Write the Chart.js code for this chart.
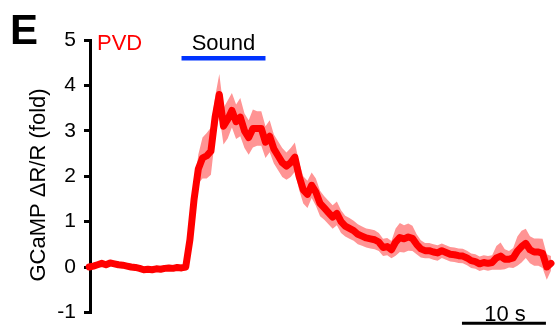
<!DOCTYPE html>
<html>
<head>
<meta charset="utf-8">
<script src="https://cdn.jsdelivr.net/npm/chart.js@4"></script>
<style>
  html, body { margin: 0; padding: 0; background: #ffffff; }
  #wrap { width: 556px; height: 333px; position: relative; }
</style>
</head>
<body>
<div id="wrap"><canvas id="chart" width="556" height="333"></canvas></div>
<script>
// サンプリング間隔（秒）
const SAMPLE_STEP = 0.5;

// PVD GCaMP 平均値 (fold)、0 s から 0.5 s ごと
const meanTrace = [
    0.00, 0.02, 0.05, 0.08, 0.05, 0.09, 0.07, 0.05, 0.04, 0.02,
    0.00, -0.01, -0.03, -0.06, -0.05, -0.06, -0.04, -0.05, -0.03, -0.02,
    -0.03, -0.01, -0.02, 0.00, 0.60, 1.50, 2.16, 2.40, 2.45, 2.55,
    3.30, 3.80, 3.10, 3.25, 3.45, 3.20, 3.30, 3.00, 2.85, 3.05,
    3.05, 3.05, 2.75, 2.88, 2.60, 2.45, 2.30, 2.22, 2.30, 2.42,
    2.00, 1.70, 1.60, 1.80, 1.65, 1.40, 1.30, 1.20, 1.10, 1.18,
    1.00, 0.90, 0.85, 0.80, 0.72, 0.68, 0.64, 0.62, 0.60, 0.55,
    0.43, 0.45, 0.38, 0.55, 0.65, 0.62, 0.66, 0.63, 0.50, 0.40,
    0.36, 0.36, 0.33, 0.31, 0.36, 0.32, 0.28, 0.27, 0.25, 0.24,
    0.20, 0.14, 0.12, 0.07, 0.10, 0.08, 0.10, 0.20, 0.24, 0.17,
    0.17, 0.20, 0.35, 0.45, 0.52, 0.38, 0.33, 0.33, 0.30, 0.00,
    0.08
];

// SEM（帯の半幅）
const semTrace = [
    0.03, 0.03, 0.03, 0.03, 0.03, 0.03, 0.03, 0.03, 0.03, 0.03,
    0.03, 0.03, 0.03, 0.03, 0.03, 0.03, 0.03, 0.03, 0.03, 0.03,
    0.03, 0.03, 0.03, 0.03, 0.15, 0.22, 0.32, 0.45, 0.50, 0.52,
    0.45, 0.45, 0.40, 0.42, 0.38, 0.38, 0.42, 0.38, 0.38, 0.42,
    0.38, 0.38, 0.35, 0.35, 0.32, 0.32, 0.32, 0.30, 0.32, 0.32,
    0.30, 0.30, 0.30, 0.28, 0.30, 0.28, 0.26, 0.26, 0.26, 0.26,
    0.25, 0.23, 0.23, 0.22, 0.22, 0.21, 0.21, 0.21, 0.21, 0.20,
    0.19, 0.19, 0.19, 0.30, 0.32, 0.30, 0.30, 0.28, 0.22, 0.19,
    0.17, 0.17, 0.17, 0.17, 0.16, 0.16, 0.16, 0.16, 0.16, 0.16,
    0.16, 0.16, 0.16, 0.16, 0.16, 0.16, 0.16, 0.26, 0.30, 0.22,
    0.18, 0.22, 0.32, 0.35, 0.32, 0.30, 0.30, 0.30, 0.32, 0.28,
    0.16
];

const yTicks = [-1, 0, 1, 2, 3, 4, 5];
const soundWindow = [11, 21];        // 音刺激 (s)
const scaleBarWindow = [44.4, 54.4]; // 10 s スケールバー
const soundBarLevel = 4.6;
const scaleBarLevel = -1.24;

const FONT = '"Liberation Sans", Arial, Helvetica, sans-serif';

const toPoints = (arr) => arr.map((v, i) => ({ x: i * SAMPLE_STEP, y: v }));
const upper = meanTrace.map((v, i) => v + semTrace[i]);
const lower = meanTrace.map((v, i) => v - semTrace[i]);

// 注釈（タイトル、Sound バー、スケールバー）
const annotations = {
    id: 'annotations',
    afterDatasetsDraw(chart) {
        const ctx = chart.ctx;
        const xs = chart.scales.x;
        const ys = chart.scales.y;
        ctx.save();

        // パネル記号
        ctx.fillStyle = '#000';
        ctx.font = 'bold 42px ' + FONT;
        ctx.textAlign = 'left';
        ctx.textBaseline = 'alphabetic';
        ctx.fillText('E', 10, 44);

        // PVD
        ctx.fillStyle = '#ff0000';
        ctx.font = '22px ' + FONT;
        ctx.fillText('PVD', 97, 50);

        // Sound バー
        const sx0 = xs.getPixelForValue(soundWindow[0]);
        const sx1 = xs.getPixelForValue(soundWindow[1]);
        const sy = ys.getPixelForValue(soundBarLevel);
        ctx.strokeStyle = '#0033ff';
        ctx.lineWidth = 4.5;
        ctx.beginPath();
        ctx.moveTo(sx0, sy);
        ctx.lineTo(sx1, sy);
        ctx.stroke();
        ctx.fillStyle = '#000';
        ctx.textAlign = 'center';
        ctx.fillText('Sound', (sx0 + sx1) / 2, 50);

        // スケールバー
        const bx0 = xs.getPixelForValue(scaleBarWindow[0]);
        const bx1 = xs.getPixelForValue(scaleBarWindow[1]);
        const by = ys.getPixelForValue(scaleBarLevel);
        ctx.strokeStyle = '#000';
        ctx.lineWidth = 3;
        ctx.beginPath();
        ctx.moveTo(bx0, by);
        ctx.lineTo(bx1, by);
        ctx.stroke();
        ctx.fillText('10 s', (bx0 + bx1) / 2 + 1, 321);

        // Y 軸タイトル
        ctx.translate(45, 185);
        ctx.rotate(-Math.PI / 2);
        ctx.textAlign = 'center';
        ctx.fillText('GCaMP \u0394R/R (fold)', 0, 0);
        ctx.restore();
    }
};

new Chart(document.getElementById('chart').getContext('2d'), {
    type: 'line',
    data: {
        datasets: [
            {
                data: toPoints(upper),
                borderWidth: 0,
                pointRadius: 0,
                fill: '+1',
                backgroundColor: '#ff9494',
                order: 3
            },
            {
                data: toPoints(lower),
                borderWidth: 0,
                pointRadius: 0,
                fill: false,
                order: 2
            },
            {
                data: toPoints(meanTrace),
                borderColor: '#ff0000',
                borderWidth: 7,
                pointRadius: 0,
                fill: false,
                tension: 0,
                borderCapStyle: 'round',
                borderJoinStyle: 'round',
                order: 1
            }
        ]
    },
    options: {
        responsive: false,
        animation: false,
        layout: { padding: { top: 40, bottom: 18, right: 0, left: 0 } },
        plugins: {
            legend: { display: false },
            tooltip: { enabled: false }
        },
        scales: {
            x: {
                type: 'linear',
                display: false,
                min: 0.1,
                max: 55.6
            },
            y: {
                min: -1,
                max: 5,
                afterFit: (scale) => { scale.width = 90; },
                afterBuildTicks: (scale) => {
                    scale.ticks = yTicks.map(v => ({ value: v }));
                },
                border: { display: true, color: '#000', width: 3 },
                grid: {
                    drawOnChartArea: false,
                    drawTicks: true,
                    tickLength: 6,
                    lineWidth: 3,
                    color: '#000'
                },
                ticks: {
                    color: '#000',
                    padding: 8,
                    font: { size: 21, family: FONT }
                }
            }
        },
        clip: false
    },
    plugins: [annotations]
});
</script>
</body>
</html>
